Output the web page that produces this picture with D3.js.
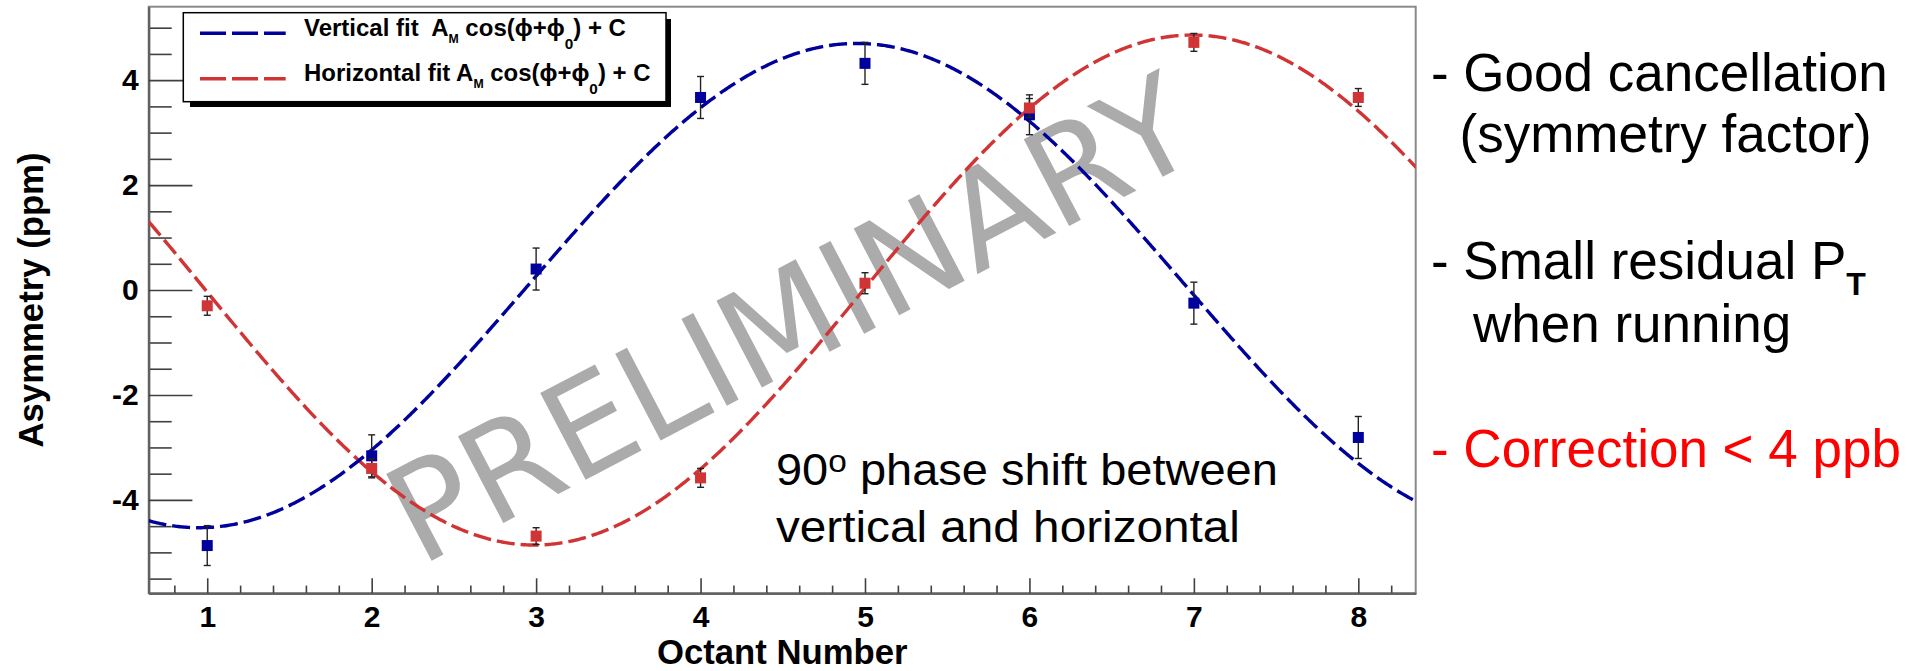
<!DOCTYPE html>
<html>
<head>
<meta charset="utf-8">
<script src="https://cdn.jsdelivr.net/npm/d3@7"></script>
<style>
  body { margin: 0; background: #fff; }
  svg { display: block; }
  text { white-space: pre; }
</style>
</head>
<body>
<svg id="chart" width="1907" height="671"></svg>
<script>
// Octant-by-octant transverse asymmetry with cosine fits
const octants = [1, 2, 3, 4, 5, 6, 7, 8];
const verticalAsym = [-4.87, -3.16, 0.40, 3.67, 4.32, 3.34, -0.25, -2.81];
const verticalErr = [0.38, 0.40, 0.40, 0.40, 0.40, 0.38, 0.40, 0.40];
const horizontalAsym = [-0.30, -3.40, -4.69, -3.58, 0.13, 3.47, 4.72, 3.67];
const horizontalErr = [0.18, 0.18, 0.16, 0.18, 0.20, 0.18, 0.17, 0.17];
// Fit parameters [A_M (ppm), phi0 (deg), C (ppm)], phi = (octant - 1) * 45 deg
const verticalFit = [4.615, -177.75, 0.085];
const horizontalFit = [4.86, -269.55, 0.0];
const xTickValues = [1, 2, 3, 4, 5, 6, 7, 8];
const yTickValues = [-4, -2, 0, 2, 4];

const svg = d3.select("#chart");
const L = 148.7, R = 1415.7, T = 6.7, B = 593.3;

const x = d3.scaleLinear().domain([0.644, 8.349]).range([L, R]);
const y = d3.scaleLinear().domain([-5.78, 5.40]).range([B, T]);

const fitValue = (p, o) => p[0] * Math.cos(((o - 1) * 45 + p[1]) * Math.PI / 180) + p[2];

// stretch a text element horizontally to a given width around originX
function fitWidth(node, target, originX) {
  const w = node.getBBox().width;
  const s = target / w;
  d3.select(node).attr("transform", `translate(${originX},0) scale(${s},1) translate(${-originX},0)`);
}

const BLUE = "#00009c", RED = "#d03434";

svg.append("defs").append("clipPath").attr("id", "plotclip")
  .append("rect").attr("x", L).attr("y", T).attr("width", R - L).attr("height", B - T);

// frame
svg.append("rect").attr("x", L).attr("y", T).attr("width", R - L).attr("height", B - T)
  .attr("fill", "#fff").attr("stroke", "#8a8a8a").attr("stroke-width", 2);

// watermark
svg.append("text")
  .attr("x", 790).attr("y", 318).attr("dy", "0.36em")
  .attr("text-anchor", "middle")
  .attr("transform", "rotate(-27.7, 790, 318)")
  .attr("font-family", "DejaVu Sans").attr("font-size", 134)
  .attr("fill", "#ababab")
  .text("PRELIMINARY");

// axes
const yMinor = d3.range(-5.5, 5.01, 0.5).filter(v => Math.abs(v % 2) > 1e-6);
const xMinor = d3.range(0.8, 8.35, 0.2).filter(v => Math.abs(v - Math.round(v)) > 1e-6);
const plainFormat = d => String(d);

const axisStyle = g => {
  g.select(".domain").attr("stroke", "#606060").attr("stroke-width", 2);
  g.selectAll(".tick line").attr("stroke", "#404040").attr("stroke-width", 1.6);
  g.selectAll(".tick text").attr("font-family", "Liberation Sans").attr("font-weight", "bold")
    .attr("font-size", 30).attr("fill", "#000");
};

svg.append("g").attr("transform", `translate(${L},0)`)
  .call(d3.axisLeft(y).tickValues(yMinor).tickSize(-23).tickSizeOuter(0).tickFormat(""))
  .call(axisStyle);
svg.append("g").attr("transform", `translate(${L},0)`)
  .call(d3.axisLeft(y).tickValues(yTickValues).tickSize(-43.7).tickSizeOuter(0).tickPadding(10)
    .tickFormat(plainFormat))
  .call(axisStyle);

svg.append("g").attr("transform", `translate(0,${B})`)
  .call(d3.axisBottom(x).tickValues(xMinor).tickSize(-7.7).tickSizeOuter(0).tickFormat(""))
  .call(axisStyle);
svg.append("g").attr("transform", `translate(0,${B})`)
  .call(d3.axisBottom(x).tickValues(xTickValues).tickSize(-15).tickSizeOuter(0).tickPadding(12)
    .tickFormat(plainFormat))
  .call(axisStyle);

// axis titles
svg.append("text")
  .attr("x", (L + R) / 2).attr("y", 664).attr("text-anchor", "middle")
  .attr("font-family", "Liberation Sans").attr("font-weight", "bold").attr("font-size", 34.7)
  .text("Octant Number");

svg.append("text")
  .attr("transform", `translate(43,${(T + B) / 2}) rotate(-90)`)
  .attr("text-anchor", "middle")
  .attr("font-family", "Liberation Sans").attr("font-weight", "bold").attr("font-size", 34.7)
  .text("Asymmetry (ppm)");

// fit curves
const plot = svg.append("g").attr("clip-path", "url(#plotclip)");
const curveX = d3.range(x.domain()[0], x.domain()[1] + 0.005, 0.01);
const line = p => d3.line().x(o => x(o)).y(o => y(fitValue(p, o)))(curveX);

plot.append("path").attr("d", line(horizontalFit)).attr("fill", "none")
  .attr("stroke", RED).attr("stroke-width", 3.4).attr("stroke-dasharray", "18,6");
plot.append("path").attr("d", line(verticalFit)).attr("fill", "none")
  .attr("stroke", BLUE).attr("stroke-width", 3.4).attr("stroke-dasharray", "18,6");

// data points with error bars
function drawSeries(vals, errs, color) {
  const g = svg.append("g");
  const pts = octants.map((o, i) => ({ o, v: vals[i], e: errs[i] }));
  g.selectAll("line.bar").data(pts).join("line")
    .attr("x1", d => x(d.o)).attr("x2", d => x(d.o))
    .attr("y1", d => y(d.v + d.e)).attr("y2", d => y(d.v - d.e))
    .attr("stroke", "#222").attr("stroke-width", 1.4);
  [1, -1].forEach(sgn => {
    g.selectAll(null).data(pts).join("line")
      .attr("x1", d => x(d.o) - 3.5).attr("x2", d => x(d.o) + 3.5)
      .attr("y1", d => y(d.v + sgn * d.e)).attr("y2", d => y(d.v + sgn * d.e))
      .attr("stroke", "#222").attr("stroke-width", 1.4);
  });
  g.selectAll("rect").data(pts).join("rect")
    .attr("x", d => x(d.o) - 5.5).attr("y", d => y(d.v) - 5.5)
    .attr("width", 11).attr("height", 11).attr("fill", color);
}
drawSeries(verticalAsym, verticalErr, BLUE);
drawSeries(horizontalAsym, horizontalErr, RED);

// legend
const lg = svg.append("g");
lg.append("rect").attr("x", 190).attr("y", 19).attr("width", 481).attr("height", 88).attr("fill", "#000");
lg.append("rect").attr("x", 183.3).attr("y", 12.7).attr("width", 482.7).attr("height", 89)
  .attr("fill", "#fff").attr("stroke", "#000").attr("stroke-width", 1.5);

const legendEntries = [
  { label: "Vertical fit  A", color: BLUE, yLine: 33.3, yText: 36, width: 322 },
  { label: "Horizontal fit A", color: RED, yLine: 78.7, yText: 81, width: 346.7 }
];
legendEntries.forEach(e => {
  lg.append("line").attr("x1", 200).attr("x2", 285.7).attr("y1", e.yLine).attr("y2", e.yLine)
    .attr("stroke", e.color).attr("stroke-width", 3.5).attr("stroke-dasharray", "26,6");
  const t = lg.append("text").attr("x", 304).attr("y", e.yText)
    .attr("font-family", "Liberation Sans").attr("font-weight", "bold").attr("font-size", 23.5);
  t.append("tspan").text(e.label);
  t.append("tspan").attr("font-size", 12).attr("dy", 7).text("M");
  t.append("tspan").attr("dy", -7).text(" cos(\u03D5+\u03D5");
  t.append("tspan").attr("font-size", 15).attr("dy", 13).text("0");
  t.append("tspan").attr("dy", -13).text(") + C");
  fitWidth(t.node(), e.width, 304);
});

// annotation inside the plot
const ann = svg.append("g").attr("font-family", "Liberation Sans").attr("fill", "#000");
const a1 = ann.append("text").attr("x", 776).attr("y", 485).attr("font-size", 45);
a1.append("tspan").text("90");
a1.append("tspan").attr("font-size", 32).attr("dy", -13.3).text("o");
a1.append("tspan").attr("dy", 13.3).text(" phase shift between");
fitWidth(a1.node(), 502, 776);
const a2 = ann.append("text").attr("x", 776).attr("y", 541.7).attr("font-size", 45)
  .text("vertical and horizontal");
fitWidth(a2.node(), 464, 776);

// notes to the right of the plot
const notes = svg.append("g").attr("font-family", "Liberation Sans").attr("font-size", 53);
notes.append("text").attr("x", 1431).attr("y", 90.7).attr("fill", "#000").text("- Good cancellation");
notes.append("text").attr("x", 1459.5).attr("y", 152).attr("fill", "#000").text("(symmetry factor)");
const n3 = notes.append("text").attr("x", 1431).attr("y", 279.3).attr("fill", "#000");
n3.append("tspan").text("- Small residual P");
n3.append("tspan").attr("font-size", 32).attr("font-weight", "bold").attr("dy", 16).text("T");
notes.append("text").attr("x", 1473).attr("y", 342).attr("fill", "#000").text("when running");
notes.append("text").attr("x", 1431).attr("y", 467).attr("fill", "#ff0000").text("- Correction < 4 ppb");
</script>
</body>
</html>
